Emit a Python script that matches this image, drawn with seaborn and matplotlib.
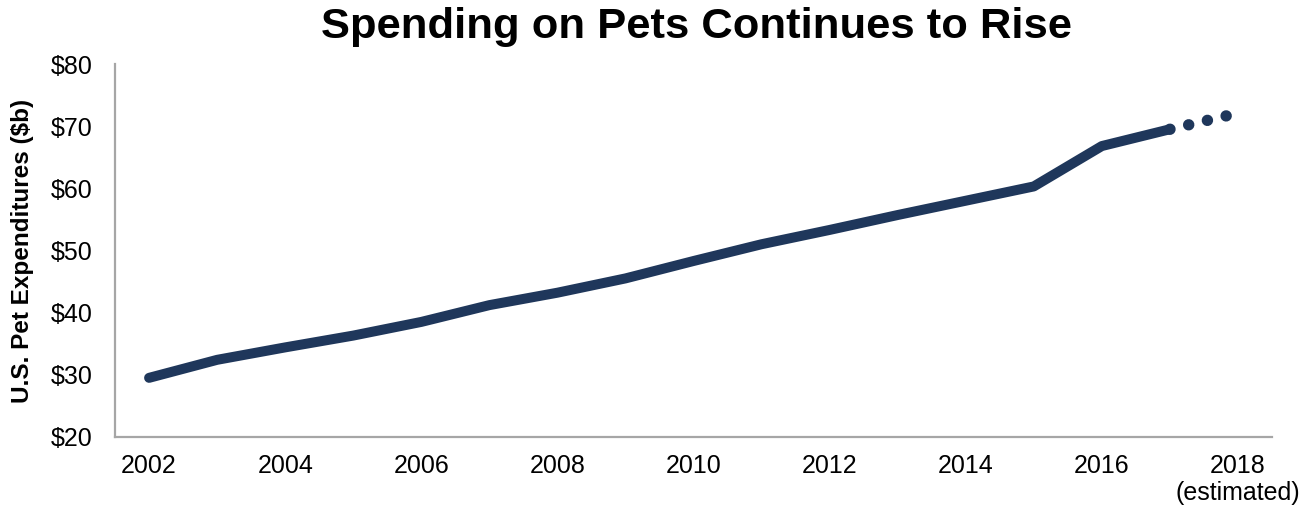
import matplotlib
matplotlib.use("Agg")
import matplotlib.pyplot as plt
import pandas as pd
import seaborn as sns

# U.S. pet industry expenditures ($ billions)
years = [2002, 2003, 2004, 2005, 2006, 2007, 2008, 2009,
         2010, 2011, 2012, 2013, 2014, 2015, 2016, 2017]
spending = [29.5, 32.4, 34.4, 36.3, 38.5, 41.2, 43.2, 45.5,
            48.3, 51.0, 53.3, 55.7, 58.0, 60.3, 66.8, 69.5]
est_years = [2017, 2018]
est_spending = [69.5, 72.1]

x_ticks = [2002, 2004, 2006, 2008, 2010, 2012, 2014, 2016, 2018]
x_labels = ["2002", "2004", "2006", "2008", "2010", "2012", "2014", "2016",
            "2018\n(estimated)"]
y_ticks = [20, 30, 40, 50, 60, 70, 80]

df = pd.DataFrame({"year": years, "spend": spending})
df_est = pd.DataFrame({"year": est_years, "spend": est_spending})

sns.set_style("white")
plt.rcParams["font.family"] = ["Liberation Sans", "DejaVu Sans"]
plt.rcParams["text.color"] = "black"
plt.rcParams["xtick.color"] = "black"
plt.rcParams["ytick.color"] = "black"
plt.rcParams["axes.labelcolor"] = "black"

navy = "#1f375b"
fig = plt.figure(figsize=(13.12, 5.08), dpi=100)
ax = fig.add_axes([0.0877, 0.14, 0.8818, 0.734])

sns.lineplot(data=df, x="year", y="spend", ax=ax, color=navy, linewidth=7.2,
             solid_capstyle="round", solid_joinstyle="round")
sns.lineplot(data=df_est, x="year", y="spend", ax=ax, color=navy,
             linewidth=8.2)
est = ax.lines[-1]
est.set_linestyle((0, (0.01, 1.68)))
est.set_dash_capstyle("round")

ax.set_xlim(2001.5, 2018.5)
ax.set_ylim(20, 80)
ax.set_xticks(x_ticks)
ax.set_xticklabels(x_labels, fontsize=18)
ax.set_yticks(y_ticks)
ax.set_yticklabels([f"${v}" for v in y_ticks], fontsize=18)
ax.tick_params(axis="both", length=0)
ax.tick_params(axis="y", pad=16)
ax.tick_params(axis="x", pad=12)

for s in ["top", "right"]:
    ax.spines[s].set_visible(False)
for s in ["left", "bottom"]:
    ax.spines[s].set_color("#a6a6a6")
    ax.spines[s].set_linewidth(1.6)

ax.set_xlabel("")
ax.set_ylabel("U.S. Pet Expenditures ($b)", fontsize=17.5, fontweight="bold",
              labelpad=12)
fig.text(0.531, 0.947, "Spending on Pets Continues to Rise", ha="center",
         va="center", fontsize=31.3, fontweight="bold")

fig.savefig("out.png", dpi=100)
